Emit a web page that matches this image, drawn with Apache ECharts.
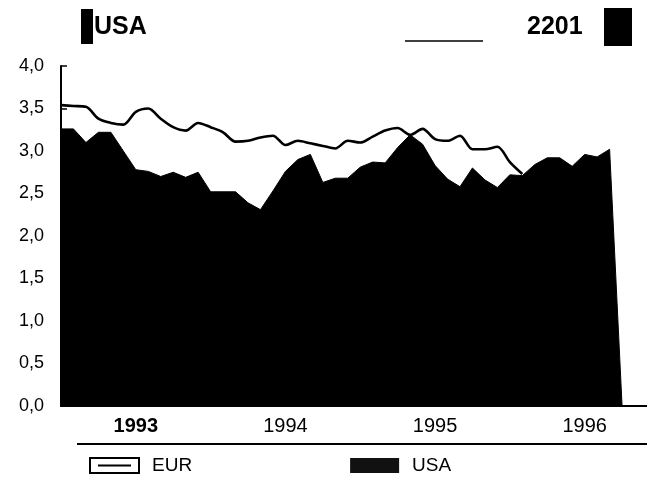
<!DOCTYPE html>
<html>
<head>
<meta charset="utf-8">
<script src="https://cdn.jsdelivr.net/npm/echarts@6/dist/echarts.min.js"></script>
<style>
html,body{margin:0;padding:0;background:#fff;}
#c{width:647px;height:481px;}
</style>
</head>
<body>
<div id="c"></div>
<script>
// Years shown on the x axis (monthly data, Jan 1993 onwards)
var years = ['1993', '1994', '1995', '1996'];
// Monthly categories
var categories = [];
years.forEach(function (y) {
  for (var m = 1; m <= 12; m++) categories.push(y + '-' + (m < 10 ? '0' + m : m));
});
// USA (black area)
var usaValues = [
  3.26, 3.26, 3.10, 3.22, 3.22, 3.00, 2.78, 2.76, 2.70, 2.75, 2.69, 2.75,
  2.52, 2.52, 2.52, 2.39, 2.31, 2.53, 2.76, 2.90, 2.96, 2.63, 2.68, 2.68,
  2.81, 2.87, 2.86, 3.04, 3.19, 3.08, 2.83, 2.67, 2.58, 2.80, 2.66, 2.57,
  2.72, 2.71, 2.84, 2.92, 2.92, 2.82, 2.96, 2.93, 3.02, 0, null, null
];
// EUR (line)
var eurValues = [
  3.54, 3.53, 3.52, 3.38, 3.33, 3.31, 3.46, 3.50, 3.38, 3.28, 3.24, 3.33,
  3.28, 3.22, 3.11, 3.12, 3.16, 3.18, 3.07, 3.12, 3.09, 3.06, 3.03, 3.12,
  3.10, 3.17, 3.24, 3.27, 3.19, 3.26, 3.14, 3.12, 3.18, 3.02, 3.02, 3.05,
  2.87, 2.73, null, null, null, null, null, null, null, null, null, null
];
var yTicks = { min: 0, max: 4, interval: 0.5 };
var seriesNames = ['EUR', 'USA'];
var titleLeft = 'USA';
var titleRight = '2201';

var FONT = '"Liberation Sans", Arial, Helvetica, sans-serif';
var chart = echarts.init(document.getElementById('c'), null, { renderer: 'canvas' });
chart.setOption({
  backgroundColor: '#fff',
  animation: false,
  grid: { left: 61, top: 66, width: 590, height: 340 },
  xAxis: {
    type: 'category',
    data: categories,
    boundaryGap: false,
    axisLine: { lineStyle: { color: '#000', width: 2 } },
    axisTick: {
      show: true, inside: true, length: 6,
      interval: function (i) { return i > 0 && i % 12 === 0; },
      lineStyle: { color: '#000', width: 1.5 }
    },
    axisLabel: {
      interval: function (i) { return i % 12 === 6; },
      formatter: function (v) {
        var y = v.slice(0, 4);
        return y === years[0] ? '{b|' + y + '}' : y;
      },
      margin: 10,
      color: '#000',
      fontFamily: FONT,
      fontSize: 20,
      rich: { b: { fontFamily: FONT, fontSize: 20, fontWeight: 'bold', color: '#000' } }
    },
    splitLine: { show: false }
  },
  yAxis: {
    type: 'value',
    min: yTicks.min, max: yTicks.max, interval: yTicks.interval,
    axisLine: { show: true, lineStyle: { color: '#000', width: 2 } },
    axisTick: { show: true, inside: true, length: 6, lineStyle: { color: '#000', width: 1.5 } },
    axisLabel: {
      margin: 17, color: '#000', fontFamily: FONT, fontSize: 18,
      formatter: function (v) { return v.toFixed(1).replace('.', ','); }
    },
    splitLine: { show: false }
  },
  legend: {
    left: 89, top: 456, padding: 0,
    itemWidth: 49, itemHeight: 15, itemGap: 158,
    textStyle: { color: '#000', fontFamily: FONT, fontSize: 19, padding: [0, 0, 0, 8] },
    data: [
      { name: seriesNames[0], icon: 'path://M0,0H49V15H0Z M8,7.5H41',
        itemStyle: { color: '#fff', borderColor: '#000', borderWidth: 2 } },
      { name: seriesNames[1], icon: 'rect', itemStyle: { color: '#111', borderWidth: 0 } }
    ]
  },
  series: [
    {
      name: seriesNames[1], type: 'line', data: usaValues,
      symbol: 'none', connectNulls: false,
      lineStyle: { color: '#000', width: 1 },
      itemStyle: { color: '#000' },
      areaStyle: { color: '#000', opacity: 1 },
      z: 2
    },
    {
      name: seriesNames[0], type: 'line', data: eurValues,
      symbol: 'none', smooth: 0.3,
      lineStyle: { color: '#000', width: 2.6 },
      itemStyle: { color: '#fff' },
      z: 3
    }
  ],
  graphic: [
    { type: 'rect', left: 81, top: 9, shape: { width: 12, height: 35 }, style: { fill: '#000' } },
    { type: 'text', left: 94, top: 15, style: { text: titleLeft, fill: '#000', font: 'bold 25px ' + FONT } },
    { type: 'line', shape: { x1: 405, y1: 41, x2: 483, y2: 41 }, style: { stroke: '#000', lineWidth: 1.5 } },
    { type: 'text', left: 527, top: 15, style: { text: titleRight, fill: '#000', font: 'bold 25px ' + FONT } },
    { type: 'rect', left: 604, top: 8, shape: { width: 28, height: 38 }, style: { fill: '#000' } },
    { type: 'line', shape: { x1: 77, y1: 444, x2: 647, y2: 444 }, style: { stroke: '#000', lineWidth: 2 } }
  ]
});
</script>
</body>
</html>
